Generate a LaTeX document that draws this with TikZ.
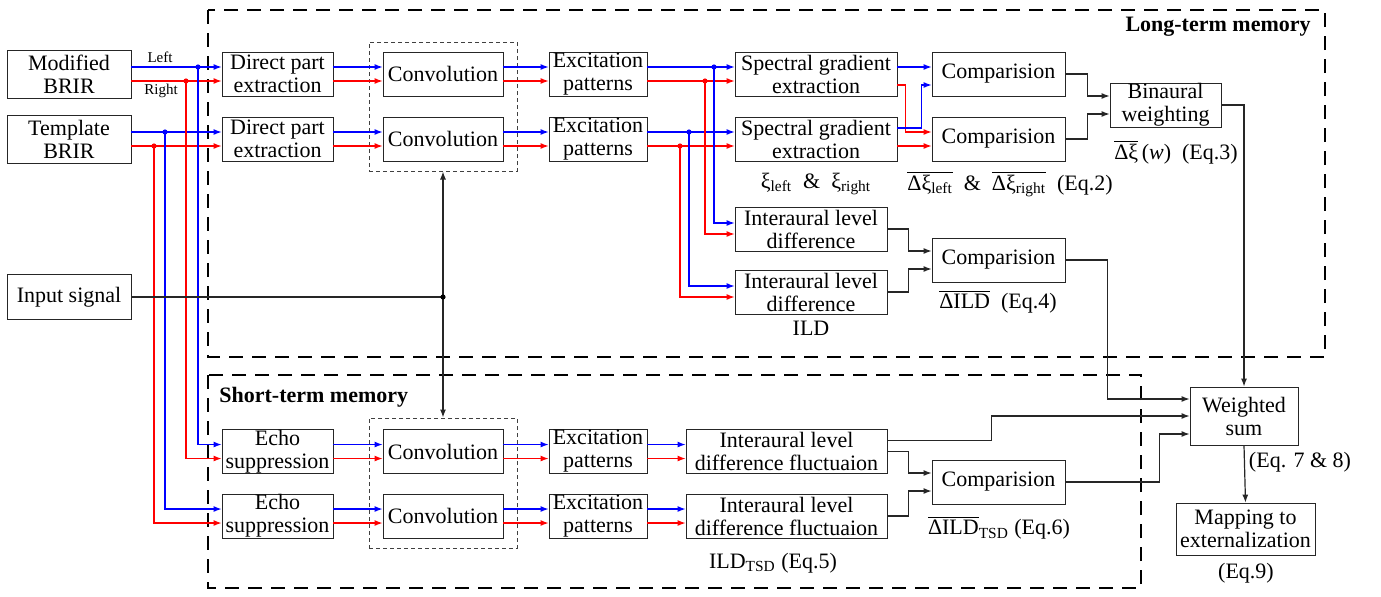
\documentclass[tikz,border=0pt]{standalone}
\usepackage{fontspec}
\setmainfont{Liberation Serif}
\usetikzlibrary{arrows.meta}
\tikzset{
  blk/.style={draw=black!85, fill=white, align=center, inner xsep=0pt, inner ysep=0pt,
    minimum height=22pt, font=\fontsize{11}{11.5}\selectfont},
  ar/.style={-{Latex[length=4pt,width=3pt]}, line width=0.6pt, black!85},
  bl/.style={ar, blue},
  rd/.style={ar, red},
  grpbox/.style={draw=black!75, dash pattern=on 2pt off 1.5pt, line width=0.5pt,
    minimum width=74pt, minimum height=64.5pt},
  memframe/.style={line width=1pt, dash pattern=on 7pt off 4.5pt},
  lbl/.style={font=\fontsize{11}{12}\selectfont, inner sep=0pt},
  lbls/.style={font=\fontsize{7.5}{8}\selectfont, inner sep=0pt}
}
\begin{document}
\begin{tikzpicture}[x=0.5pt, y=-0.5pt]
    \useasboundingbox (0,0) rectangle (1381,596);
    \draw[memframe] (208,10) rectangle (1325,357);
    \draw[memframe] (208,375) rectangle (1141,588);
    \node[lbl, anchor=east, font=\fontsize{11}{12}\selectfont\bfseries] (ltm) at (1311,27) {Long-term memory};
    \node[lbl, anchor=west, font=\fontsize{11}{12}\selectfont\bfseries] (stm) at (219,397) {Short-term memory};

    \node[grpbox] (grp1) at (443,106.5) {};
    \node[grpbox, minimum height=65pt] (grp2) at (443,483) {};

    \node[blk, minimum width=62pt, minimum height=24pt] (mod) at (69,74) {Modified\\BRIR};
    \node[blk, minimum width=62pt, minimum height=24pt] (tpl) at (69,139) {Template\\BRIR};
    \node[blk, minimum width=62pt, minimum height=22.5pt] (inp) at (69,297) {Input signal};

    \node[blk, minimum width=55.5pt] (dpe1) at (277.5,74) {Direct part\\extraction};
    \node[blk, minimum width=55.5pt] (dpe2) at (277.5,139) {Direct part\\extraction};
    \node[blk, minimum width=60pt] (conv1) at (443,74) {Convolution};
    \node[blk, minimum width=60pt] (conv2) at (443,139) {Convolution};
    \node[blk, minimum width=49pt] (exc1) at (598,74) {Excitation\\patterns};
    \node[blk, minimum width=49pt] (exc2) at (598,139) {Excitation\\patterns};
    \node[blk, minimum width=81pt] (sge1) at (816,74) {Spectral gradient\\extraction};
    \node[blk, minimum width=81pt] (sge2) at (816,139) {Spectral gradient\\extraction};
    \node[blk, minimum width=66.5pt] (cmp1) at (998.5,74) {Comparision};
    \node[blk, minimum width=66.5pt] (cmp2) at (998.5,139) {Comparision};
    \node[blk, minimum width=55.5pt] (bw) at (1165.5,105) {Binaural\\weighting};
    \node[blk, minimum width=76pt] (ild1) at (811,229) {Interaural level\\difference};
    \node[blk, minimum width=76pt] (ild2) at (811,292) {Interaural level\\difference};
    \node[blk, minimum width=66.5pt] (cmpi) at (998.5,260) {Comparision};

    \node[blk, minimum width=55.5pt] (echo1) at (277.5,451.5) {Echo\\suppression};
    \node[blk, minimum width=55.5pt] (echo2) at (277.5,516) {Echo\\suppression};
    \node[blk, minimum width=60pt] (conv3) at (443,451.5) {Convolution};
    \node[blk, minimum width=60pt] (conv4) at (443,516) {Convolution};
    \node[blk, minimum width=49pt] (exc3) at (598,451.5) {Excitation\\patterns};
    \node[blk, minimum width=49pt] (exc4) at (598,516) {Excitation\\patterns};
    \node[blk, minimum width=100.5pt] (ildf1) at (786.5,451.5) {Interaural level\\difference fluctuaion};
    \node[blk, minimum width=100.5pt] (ildf2) at (786.5,516) {Interaural level\\difference fluctuaion};
    \node[blk, minimum width=66.5pt] (cmpt) at (998.5,482) {Comparision};

    \node[blk, minimum width=54pt, minimum height=29pt] (ws) at (1244,416) {Weighted\\sum};
    \node[blk, minimum width=69.5pt, minimum height=26pt] (map) at (1245.5,529) {Mapping to\\externalization};

    \node[lbls] (lleft) at (160,57) {Left};
    \node[lbls] (lright) at (161,91) {Right};
    \node[lbl] (xis) at (816,184) {ξ\textsubscript{left}\ \ \&\ \ ξ\textsubscript{right}};
    \node[lbl] (dxis) at (1010,184) {$\overline{\mbox{Δξ\textsubscript{left}}}$\ \ \&\ \ $\overline{\mbox{Δξ\textsubscript{right}}}$\ \ (Eq.2)};
    \node[lbl] (dxiw) at (1176,152) {$\overline{\mbox{Δξ}}\,$(\textit{w})\ \ (Eq.3)};
    \node[lbl] (dild) at (998,302) {$\overline{\mbox{ΔILD}}$\ \ (Eq.4)};
    \node[lbl] (ildl) at (811,328) {ILD};
    \node[lbl] (ildt) at (773,563) {ILD\textsubscript{TSD} (Eq.5)};
    \node[lbl] (dildt) at (999,528) {$\overline{\mbox{ΔILD}}$\textsubscript{TSD} (Eq.6)};
    \node[lbl] (eq78) at (1300,462) {(Eq. 7 \& 8)};
    \node[lbl] (eq9) at (1246,573) {(Eq.9)};

    \coordinate (jb1) at (198,67);
    \coordinate (jr1) at (186,81);
    \coordinate (jb2) at (165,132);
    \coordinate (jr2) at (154,146);
    \coordinate (jb3) at (714,67);
    \coordinate (jr3) at (705,81);
    \coordinate (jb4) at (689,132);
    \coordinate (jr4) at (680,146);
    \coordinate (jin) at (443,297);

    \foreach \a/\b in {mod/dpe1, tpl/dpe2, dpe1/conv1, conv1/exc1, exc1/sge1, dpe2/conv2, conv2/exc2,
        echo1/conv3, conv3/exc3, exc3/ildf1, echo2/conv4, conv4/exc4, exc4/ildf2} {
        \draw[bl] ([yshift=3.5pt]\a.east) -- ([yshift=3.5pt]\b.west);
        \draw[rd] ([yshift=-3.5pt]\a.east) -- ([yshift=-3.5pt]\b.west);
    }
    \draw[bl] ([yshift=3.5pt]exc2.east) -- ([yshift=3.5pt]sge2.west);
    \draw[rd] ([yshift=-3.5pt]exc2.east) -- ([yshift=-3.5pt]sge2.west);

    \draw[bl] (jb1) |- ([yshift=3.5pt]echo1.west);
    \draw[rd] (jr1) |- ([yshift=-3.5pt]echo1.west);
    \draw[bl] (jb2) |- ([yshift=3.5pt]echo2.west);
    \draw[rd] (jr2) |- ([yshift=-3.5pt]echo2.west);
    \draw[bl] (jb3) |- ([yshift=3pt]ild1.west);
    \draw[rd] (jr3) |- ([yshift=-2.5pt]ild1.west);
    \draw[bl] (jb4) |- ([yshift=3pt]ild2.west);
    \draw[rd] (jr4) |- ([yshift=-2.5pt]ild2.west);

    \draw[bl] ([yshift=3.5pt]sge1.east) -- ([yshift=3.5pt]cmp1.west);
    \draw[rd] ([yshift=-5.5pt]sge1.east) -- ++(8,0) |- ([yshift=3.5pt]cmp2.west);
    \draw[bl] ([yshift=5.5pt]sge2.east) -- ++(24,0) |- ([yshift=-5.5pt]cmp1.west);
    \draw[rd] ([yshift=-3.5pt]sge2.east) -- ([yshift=-3.5pt]cmp2.west);

    \draw[ar] (cmp1.east) -- ++(22,0) |- ([yshift=4.5pt]bw.west);
    \draw[ar] (cmp2.east) -- ++(22,0) |- ([yshift=-4.5pt]bw.west);
    \draw[ar] (bw.east) -| (ws.north);

    \draw[ar] (ild1.east) -- ++(21,0) |- ([yshift=4.5pt]cmpi.west);
    \draw[ar] (ild2.east) -- ++(21,0) |- ([yshift=-4.5pt]cmpi.west);
    \draw[ar] (cmpi.east) -- ++(42,0) |- ([yshift=8.5pt]ws.west);

    \draw[ar] ([yshift=5.5pt]ildf1.east) -- ++(104,0) |- (ws.west);
    \draw[ar] (ildf1.east) -- ++(21,0) |- ([yshift=4.5pt]cmpt.west);
    \draw[ar] (ildf2.east) -- ++(21,0) |- ([yshift=-4.5pt]cmpt.west);
    \draw[ar] (cmpt.east) -- ++(94,0) |- ([yshift=-9pt]ws.west);
    \draw[ar] (ws.south) -- (map.north);

    \draw[line width=0.6pt, black!85] (inp.east) -- (jin);
    \draw[ar] (jin) -- (grp1.south);
    \draw[ar] (jin) -- (grp2.north);

    \foreach \p/\c in {jb1/blue, jr1/red, jb2/blue, jr2/red, jb3/blue, jr3/red, jb4/blue, jr4/red, jin/black} {
        \fill[\c] (\p) circle (1.3pt);
    }
\end{tikzpicture}
\end{document}
